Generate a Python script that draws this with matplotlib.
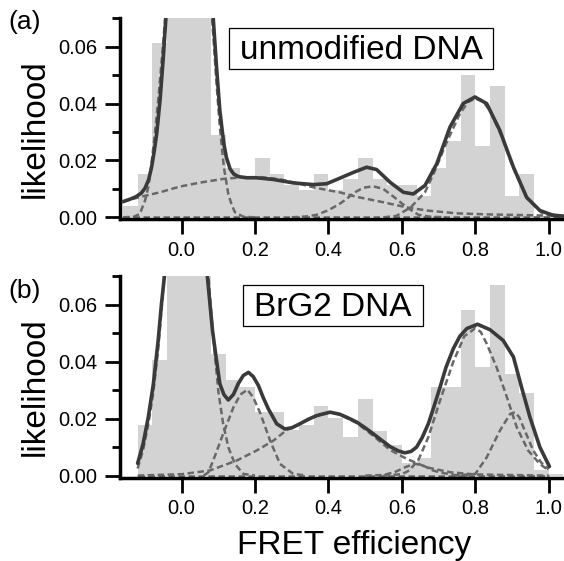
"""FRET efficiency histograms with Gaussian-mixture fit curves (two panels)."""

import matplotlib

matplotlib.use("Agg")
import matplotlib.pyplot as plt
from matplotlib.patches import Rectangle

plt.rcParams["font.family"] = ["Liberation Sans", "DejaVu Sans"]

# ---- data ------------------------------------------------------------------
bin_left = [-0.16, -0.12, -0.08, -0.04, 0.00, 0.04, 0.08, 0.12, 0.16, 0.20,
            0.24, 0.28, 0.32, 0.36, 0.40, 0.44, 0.48, 0.52, 0.56, 0.60,
            0.64, 0.68, 0.72, 0.76, 0.80, 0.84, 0.88, 0.92, 0.96, 1.00]
bin_width = 0.04

hist_a = [0.0038, 0.0153, 0.0614, 0.16, 0.19, 0.15, 0.0288, 0.0173, 0.0135, 0.0209,
          0.0153, 0.0115, 0.0096, 0.0153, 0.0096, 0.0133, 0.0209, 0.0133, 0.0115, 0.0115,
          0.0075, 0.0173, 0.0270, 0.0499, 0.0249, 0.0460, 0.0076, 0.0153, 0.0005, 0.0012]

hist_b = [0.0, 0.0178, 0.0405, 0.15, 0.17, 0.12, 0.0426, 0.0336, 0.0310, 0.0223,
          0.0223, 0.0160, 0.0177, 0.0246, 0.0201, 0.0135, 0.0270, 0.0156, 0.0108, 0.0043,
          0.0062, 0.0312, 0.0312, 0.0583, 0.0382, 0.0670, 0.0358, 0.0291, 0.0020, 0.0005]

# panel (a): total fit
fit_a_x = [-0.16, -0.14, -0.125, -0.11, -0.10, -0.09, -0.082, -0.075, -0.068, -0.059,
           -0.05, -0.043, -0.03, 0.02, 0.075, 0.086, 0.095, 0.104, 0.11, 0.115,
           0.122, 0.132, 0.142, 0.155, 0.177, 0.204, 0.25, 0.304, 0.359, 0.395,
           0.43, 0.468, 0.504, 0.531, 0.568, 0.604, 0.631, 0.663, 0.695, 0.731,
           0.767, 0.799, 0.831, 0.867, 0.904, 0.94, 0.976, 1.01, 1.04]
fit_a_y = [0.0055, 0.0064, 0.0072, 0.0085, 0.0102, 0.0132, 0.0176, 0.0230, 0.0294, 0.0410,
           0.0563, 0.0700, 0.1000, 0.2600, 0.1000, 0.0700, 0.0528, 0.0376, 0.0310, 0.0258,
           0.0210, 0.0170, 0.0152, 0.0143, 0.0139, 0.0139, 0.0133, 0.0121, 0.0115, 0.0118,
           0.0137, 0.0158, 0.0176, 0.0168, 0.0123, 0.0088, 0.0082, 0.0112, 0.0188, 0.0317,
           0.0400, 0.0423, 0.0400, 0.0305, 0.0176, 0.0070, 0.0024, 0.0008, 0.0004]

# panel (a): fit components
comp_a0_x = [-0.16, -0.13, -0.114, -0.10, -0.091, -0.083, -0.075, -0.064, -0.052, -0.045,
             -0.03, 0.02, 0.07, 0.083, 0.095, 0.104, 0.115, 0.127, 0.136, 0.145, 0.168, 0.2]
comp_a0_y = [0.0, 0.0002, 0.0012, 0.0058, 0.0106, 0.018, 0.027, 0.041, 0.0587, 0.07,
             0.11, 0.25, 0.11, 0.07, 0.047, 0.0317, 0.0176, 0.0082, 0.0045, 0.0018, 0.0002, 0.0]

comp_a1_x = [-0.16, -0.118, -0.059, -0.005, 0.05, 0.113, 0.168, 0.22, 0.27, 0.32,
             0.36, 0.40, 0.43, 0.476, 0.50, 0.549, 0.613, 0.668, 0.749, 0.84, 1.04]
comp_a1_y = [0.0055, 0.0070, 0.0088, 0.0108, 0.0122, 0.0135, 0.0141, 0.0141, 0.0133, 0.0118,
             0.0105, 0.0095, 0.0088, 0.0072, 0.0066, 0.0053, 0.0035, 0.0024, 0.0014, 0.0010, 0.0005]

comp_a2_x = [0.30, 0.34, 0.368, 0.40, 0.43, 0.45, 0.468, 0.495, 0.522, 0.549,
             0.58, 0.613, 0.645, 0.677, 0.72]
comp_a2_y = [0.0, 0.0003, 0.0009, 0.0025, 0.0047, 0.0065, 0.0085, 0.0104, 0.0109, 0.0100,
             0.0070, 0.0035, 0.0009, 0.0002, 0.0]

comp_a3_x = [0.55, 0.585, 0.624, 0.663, 0.69, 0.72, 0.758, 0.78, 0.80, 0.82,
             0.84, 0.87, 0.90, 0.94, 0.98, 1.04]
comp_a3_y = [0.0, 0.0005, 0.0035, 0.0088, 0.0164, 0.0258, 0.0364, 0.0405, 0.0418, 0.0408,
             0.0375, 0.0290, 0.0185, 0.0068, 0.0017, 0.0002]

base_a_x = [-0.16, 1.04]
base_a_y = [0.0, 0.0]

# panel (b): total fit
fit_b_x = [-0.12, -0.105, -0.091, -0.077, -0.064, -0.055, -0.047, -0.03, 0.012, 0.055,
           0.07, 0.084, 0.095, 0.104, 0.115, 0.127, 0.141, 0.154, 0.168, 0.182,
           0.195, 0.209, 0.222, 0.236, 0.259, 0.281, 0.30, 0.322, 0.345, 0.368,
           0.404, 0.43, 0.45, 0.477, 0.50, 0.522, 0.545, 0.568, 0.59, 0.608,
           0.625, 0.64, 0.655, 0.672, 0.688, 0.704, 0.72, 0.74, 0.758, 0.777,
           0.806, 0.84, 0.876, 0.904, 0.926, 0.949, 0.976, 1.002]
fit_b_y = [0.0043, 0.0112, 0.0205, 0.0323, 0.0475, 0.0604, 0.0700, 0.1000, 0.2000, 0.1000,
           0.0700, 0.0510, 0.0405, 0.0323, 0.0285, 0.0266, 0.0285, 0.0323, 0.0352, 0.0363,
           0.0348, 0.0317, 0.0275, 0.0235, 0.0182, 0.0164, 0.0168, 0.0182, 0.0198, 0.0211,
           0.0223, 0.0216, 0.0205, 0.0188, 0.0168, 0.0147, 0.0124, 0.0102, 0.0087, 0.0080,
           0.0085, 0.0100, 0.0133, 0.0182, 0.0245, 0.0311, 0.0380, 0.0446, 0.0490, 0.0517,
           0.0532, 0.0513, 0.0475, 0.0417, 0.0311, 0.0205, 0.0100, 0.0032]

# panel (b): fit components
comp_b0_x = [-0.12, -0.105, -0.091, -0.077, -0.064, -0.055, -0.048, -0.03, 0.012, 0.055,
             0.073, 0.085, 0.10, 0.113, 0.127, 0.145, 0.168, 0.2]
comp_b0_y = [0.0025, 0.009, 0.018, 0.0295, 0.0445, 0.058, 0.07, 0.10, 0.20, 0.10,
             0.07, 0.05, 0.0295, 0.0182, 0.010, 0.0041, 0.0006, 0.0]

comp_b1_x = [0.06, 0.073, 0.091, 0.113, 0.141, 0.16, 0.179, 0.195, 0.213, 0.241,
             0.268, 0.304, 0.34]
comp_b1_y = [0.0, 0.0012, 0.0070, 0.0147, 0.0240, 0.0285, 0.0302, 0.0275, 0.0223, 0.0123,
             0.0041, 0.0006, 0.0]

comp_b2_x = [-0.12, 0.0, 0.077, 0.15, 0.204, 0.25, 0.286, 0.322, 0.368, 0.404,
             0.43, 0.477, 0.522, 0.568, 0.613, 0.668, 0.731, 0.80, 1.0]
comp_b2_y = [0.0, 0.0005, 0.0018, 0.0053, 0.0088, 0.0123, 0.0160, 0.0182, 0.0210, 0.0222,
             0.0215, 0.0185, 0.0140, 0.0090, 0.0059, 0.0029, 0.0012, 0.0004, 0.0]

comp_b3_x = [0.50, 0.549, 0.58, 0.61, 0.636, 0.66, 0.685, 0.704, 0.744, 0.78]
comp_b3_y = [0.0, 0.0002, 0.0012, 0.0030, 0.0042, 0.0034, 0.0018, 0.0011, 0.0002, 0.0]

comp_b4_x = [0.55, 0.60, 0.62, 0.645, 0.672, 0.704, 0.74, 0.77, 0.80, 0.815,
             0.831, 0.858, 0.886, 0.913, 0.944, 0.976, 1.0]
comp_b4_y = [0.0, 0.0005, 0.0018, 0.0055, 0.0135, 0.0264, 0.0400, 0.0490, 0.0518, 0.0505,
             0.0464, 0.0381, 0.0276, 0.0170, 0.0088, 0.0041, 0.0018]

comp_b5_x = [0.74, 0.80, 0.831, 0.867, 0.895, 0.908, 0.92, 0.931, 0.958, 0.98, 1.0]
comp_b5_y = [0.0, 0.0006, 0.0064, 0.0158, 0.0217, 0.0223, 0.0205, 0.0170, 0.0088, 0.0045, 0.0022]

base_b_x = [-0.12, 1.0]
base_b_y = [0.0, 0.0]

x_ticks = [0.0, 0.2, 0.4, 0.6, 0.8, 1.0]
y_ticks = [0.00, 0.02, 0.04, 0.06]
y_minor = [0.01, 0.03, 0.05, 0.07]

# ---- drawing ----------------------------------------------------------------
W, H = 564, 561
BAR = "#d3d3d3"
FIT = "#3a3a3a"
COMP = "#686868"


def px(x0, y0, w, h):
    """Pixel box (from top-left) -> figure fraction rect."""
    return [x0 / W, 1 - (y0 + h) / H, w / W, h / H]


def draw_panel(ax, hist, fit_x, fit_y, comps, base_x, base_y):
    ax.bar(bin_left, hist, width=bin_width, align="edge", color=BAR,
           linewidth=0, zorder=1)
    for cx, cy in comps:
        ax.plot(cx, cy, color=COMP, lw=1.8, dashes=(2.6, 1.4), zorder=2)
    ax.plot(base_x, base_y, color=COMP, lw=1.8, dashes=(2.6, 1.4), zorder=2)
    ax.plot(fit_x, fit_y, color=FIT, lw=2.6, zorder=3, solid_capstyle="round")

    ax.set_xlim(-0.168, 1.0417)
    ax.set_ylim(-0.0007, 0.0701)
    for side in ("top", "right"):
        ax.spines[side].set_visible(False)
    for side in ("left", "bottom"):
        ax.spines[side].set_linewidth(2.5)
    ax.set_xticks(x_ticks)
    ax.set_xticklabels([f"{t:.1f}" for t in x_ticks])
    ax.set_yticks(y_ticks)
    ax.set_yticklabels([f"{t:.2f}" for t in y_ticks])
    ax.set_yticks(y_minor, minor=True)
    ax.tick_params(axis="x", which="major", direction="out", length=11, width=2,
                   labelsize=14.5, pad=4.5)
    ax.tick_params(axis="y", which="major", direction="out", length=11, width=2,
                   labelsize=14.5, pad=5.5)
    ax.tick_params(axis="y", which="minor", direction="out", length=6, width=2)
    ax.patch.set_alpha(0)


fig = plt.figure(figsize=(W / 100, H / 100), dpi=100)

ax_a = fig.add_axes(px(120, 17.9, 444, 201.4))
draw_panel(ax_a, hist_a, fit_a_x, fit_a_y,
           [(comp_a0_x, comp_a0_y), (comp_a1_x, comp_a1_y),
            (comp_a2_x, comp_a2_y), (comp_a3_x, comp_a3_y)],
           base_a_x, base_a_y)

ax_b = fig.add_axes(px(120, 276.2, 444, 201.4))
draw_panel(ax_b, hist_b, fit_b_x, fit_b_y,
           [(comp_b0_x, comp_b0_y), (comp_b1_x, comp_b1_y), (comp_b2_x, comp_b2_y),
            (comp_b3_x, comp_b3_y), (comp_b4_x, comp_b4_y), (comp_b5_x, comp_b5_y)],
           base_b_x, base_b_y)

# axis labels
for yc in (129, 387):
    fig.text(43.3 / W, 1 - yc / H, "likelihood", rotation=90, rotation_mode="anchor",
             ha="center", va="baseline", fontsize=24)
fig.text(354 / W, 1 - 554 / H, "FRET efficiency", ha="center", va="baseline",
         fontsize=24)

# panel letters
fig.text(25 / W, 1 - 22 / H, "(a)", ha="center", va="center", fontsize=19)
fig.text(25 / W, 1 - 291 / H, "(b)", ha="center", va="center", fontsize=19)

# sample boxes
for (x0, y0, x1, y1), label in (((229, 27.7, 493.3, 68.5), "unmodified DNA"),
                                ((243.3, 285, 422.7, 325.5), "BrG2 DNA")):
    fig.patches.append(Rectangle((x0 / W, 1 - y1 / H), (x1 - x0) / W, (y1 - y0) / H,
                                 transform=fig.transFigure, fill=False,
                                 edgecolor="black", lw=0.9))
    fig.text((x0 + x1) / 2 / W, 1 - (y1 - 9.2) / H, label, ha="center",
             va="baseline", fontsize=24)

fig.savefig("out.png", dpi=100)
plt.close(fig)
